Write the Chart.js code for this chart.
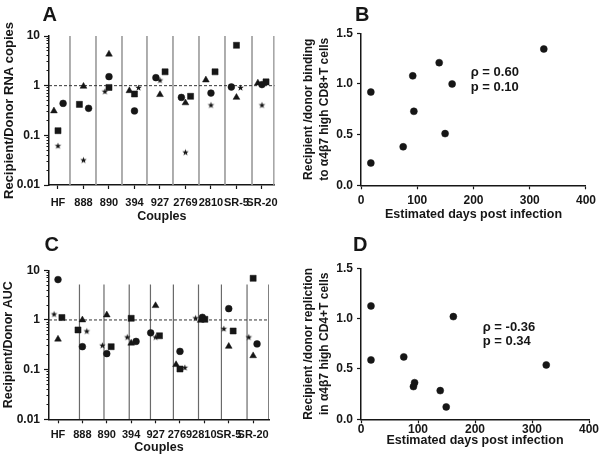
<!DOCTYPE html>
<html>
<head>
<meta charset="utf-8">
<script src="https://cdn.jsdelivr.net/npm/chart.js@4.4.0/dist/chart.umd.min.js"></script>
<style>
  html, body { margin: 0; padding: 0; background: #fff; }
  #wrap { position: relative; width: 600px; height: 456px; overflow: hidden; }
  canvas { position: absolute; }
</style>
</head>
<body>
<div id="wrap">
  <canvas id="chartA" width="300" height="226" style="left:0;top:0"></canvas>
  <canvas id="chartB" width="300" height="226" style="left:300px;top:0"></canvas>
  <canvas id="chartC" width="300" height="230" style="left:0;top:226px"></canvas>
  <canvas id="chartD" width="300" height="230" style="left:300px;top:226px"></canvas>
</div>
<script>
// categories + tick labels
const couples = ['HF', '888', '890', '394', '927', '2769', '2810', 'SR-5', 'SR-20'];
const logTickValues = [0.01, 0.1, 1, 10];
const logTickLabels = ['0.01', '0.1', '1', '10'];
const dayTicks = [0, 100, 200, 300, 400];
const ratioTicks = [0, 0.5, 1.0, 1.5];
const ratioTickLabels = ['0.0', '0.5', '1.0', '1.5'];

// panel A - recipient/donor RNA copies
const rnaCircle   = [0.44, 0.35, 1.52, 0.31, 1.45, 0.58, 0.71, 0.94, 1.05];
const rnaSquare   = [0.124, 0.42, 0.92, 0.68, 1.9, 0.61, 1.9, 6.5, 1.19];
const rnaTriangle = [0.31, 0.97, 4.3, 0.79, 0.66, 0.45, 1.3, 0.58, 1.13];
const rnaStar     = [0.062, 0.032, 0.77, 0.92, 1.3, 0.046, 0.41, 0.92, 0.41];
// horizontal jitter of each mark inside its couple (category widths)
const rnaCircleDx   = [0.2, 0.2, 0, 0, -0.16, -0.16, 0, -0.2, 0];
const rnaSquareDx   = [0, -0.16, 0, 0, 0.2, 0.2, 0.16, 0, 0.16];
const rnaTriangleDx = [-0.16, 0, 0, -0.2, 0, 0, -0.2, 0, -0.16];
const rnaStarDx     = [0, 0, -0.16, 0.16, 0, 0, 0, 0.16, 0];
const rnaSeparators = [1.47, 2.49, 3.51, 4.49, 5.51, 6.53, 7.55, 8.61, 9.47];

// panel C - recipient/donor AUC
const aucCircle   = [6.5, 0.29, 0.21, 0.37, 0.55, 0.233, 1.13, 1.69, 0.33];
const aucSquare   = [1.12, 0.63, 0.29, 1.08, 0.48, 0.103, 1.03, 0.6, 6.9];
const aucTriangle = [0.41, 1.0, 1.26, 0.34, 1.94, 0.126, 0.98, 0.294, 0.19];
const aucStar     = [1.32, 0.6, 0.31, 0.455, 0.455, 0.111, 1.1, 0.67, 0.455];
const aucCircleDx   = [0, 0, 0, 0.2, -0.2, 0, -0.08, 0, 0.16];
const aucSquareDx   = [0.16, -0.18, 0.18, 0, 0.16, 0, 0.02, 0.18, 0];
const aucTriangleDx = [0, 0, 0, 0, 0, -0.16, -0.15, 0, 0];
const aucStarDx     = [-0.16, 0.18, -0.18, -0.16, 0, 0.2, -0.36, -0.2, -0.18];
const aucSeparators = [1.88, 2.885, 3.92, 4.79, 5.73, 6.76, 7.7, 8.75, 9.64];

// panels B and D - vs estimated days post infection
const estDays     = [17.5, 17.5, 75, 92, 94, 139, 149.5, 162, 325];
const bindingCD8  = [0.92, 0.22, 0.38, 1.08, 0.73, 1.21, 0.51, 1.0, 1.345];
const replicCD4   = [1.126, 0.59, 0.62, 0.325, 0.364, 0.285, 0.123, 1.02, 0.54];

const INK = '#161616';
Chart.defaults.font.family = "'Liberation Sans', Arial, Helvetica, sans-serif";
Chart.defaults.color = INK;

function makeStar(outer, inner) {
    const c = document.createElement('canvas');
    const s = 9;
    c.width = s; c.height = s;
    const g = c.getContext('2d');
    g.translate(s / 2, s / 2 + 0.4);
    g.beginPath();
    for (let i = 0; i < 10; i++) {
        const r = i % 2 ? inner : outer;
        const a = -Math.PI / 2 + i * Math.PI / 5;
        g.lineTo(r * Math.cos(a), r * Math.sin(a));
    }
    g.closePath();
    g.fillStyle = INK;
    g.fill();
    return c;
}
const starImg = makeStar(3.4, 1.45);

// draws panel letters and the correlation notes
function textPlugin(items) {
    return {
        id: 'panelText',
        afterDraw(chart) {
            const ctx = chart.ctx;
            ctx.save();
            ctx.fillStyle = INK;
            ctx.textAlign = 'left';
            ctx.textBaseline = 'alphabetic';
            items.forEach(t => {
                ctx.font = t.font;
                ctx.fillText(t.text, t.x, t.y);
            });
            ctx.restore();
        }
    };
}

const tickFont = { size: 12, weight: 'bold' };
const catFont = { size: 11, weight: 'bold' };
const titleFont = { size: 12.5, weight: 'bold' };
const letterFont = "bold 20px 'Liberation Sans', Arial, sans-serif";
const noteFont = "bold 13px 'Liberation Sans', Arial, sans-serif";

function markDataset(values, dx, style, radius) {
    return {
        data: values.map((v, i) => ({ x: i + 1 + dx[i], y: v })),
        pointStyle: style,
        pointRadius: radius,
        pointBackgroundColor: INK,
        pointBorderColor: INK,
        pointBorderWidth: 0.5,
        showLine: false
    };
}

function logPanel(id, marks, seps, sepTop, xMin, xMax, yTitle, lay) {
    const sepData = [];
    seps.forEach(s => {
        sepData.push({ x: s, y: logTickValues[0] }, { x: s, y: sepTop }, { x: s, y: null });
    });
    const minorTicks = [];
    for (let d = 0; d < logTickValues.length - 1; d++) {
        for (let k = 2; k < 10; k++) minorTicks.push({ value: logTickValues[d] * k });
    }

    new Chart(document.getElementById(id), {
        type: 'scatter',
        data: {
            datasets: [
                ...marks,
                {
                    data: [{ x: xMin, y: 1 }, { x: xMax, y: 1 }],
                    showLine: true,
                    borderColor: '#333',
                    borderWidth: 1,
                    borderDash: [3, 2],
                    pointRadius: 0
                },
                {
                    data: sepData,
                    showLine: true,
                    spanGaps: false,
                    borderColor: lay.sepColor,
                    borderWidth: lay.sepWidth,
                    pointRadius: 0
                }
            ]
        },
        options: {
            responsive: false,
            animation: false,
            events: [],
            layout: { padding: { left: 0, top: lay.top, right: lay.right, bottom: 0 } },
            plugins: { legend: { display: false }, tooltip: { enabled: false } },
            scales: {
                x: {
                    type: 'linear',
                    min: xMin,
                    max: xMax,
                    afterBuildTicks: s => { s.ticks = couples.map((c, i) => ({ value: i + 1 })); },
                    afterFit: s => { s.height = lay.xHeight; },
                    grid: { drawOnChartArea: false, tickLength: 4, tickColor: INK, tickWidth: 1.2 },
                    border: { color: INK, width: 1.5 },
                    ticks: {
                        autoSkip: false, maxRotation: 0, minRotation: 0, padding: lay.xPad,
                        font: catFont, color: INK,
                        callback: (v, i) => couples[i]
                    },
                    title: { display: true, text: 'Couples', font: titleFont, color: INK, padding: { top: 0, bottom: lay.titleBottom } }
                },
                y: {
                    type: 'logarithmic',
                    position: 'left',
                    weight: 1,
                    min: logTickValues[0],
                    max: logTickValues[logTickValues.length - 1],
                    afterBuildTicks: s => { s.ticks = logTickValues.map(v => ({ value: v })); },
                    afterFit: s => { s.width = 49; },
                    grid: { drawOnChartArea: false, tickLength: 5, tickColor: INK, tickWidth: 1.2 },
                    border: { color: INK, width: 1.5 },
                    ticks: { padding: 4, font: tickFont, color: INK, callback: (v, i) => logTickLabels[i] },
                    title: { display: true, text: yTitle, font: { size: lay.yTitleSize, weight: 'bold' }, color: INK, padding: { top: 1.5, bottom: 0 } }
                },
                y2: {
                    type: 'logarithmic',
                    position: 'left',
                    weight: 0,
                    min: logTickValues[0],
                    max: logTickValues[logTickValues.length - 1],
                    afterBuildTicks: s => { s.ticks = minorTicks.slice(); },
                    afterFit: s => { s.width = 0; },
                    grid: { drawOnChartArea: false, tickLength: 2.5, tickColor: INK, tickWidth: 1 },
                    border: { display: false },
                    ticks: { display: false }
                }
            }
        },
        plugins: [textPlugin(lay.texts)]
    });
}

function dayPanel(id, values, yTitle, lay) {
    new Chart(document.getElementById(id), {
        type: 'scatter',
        data: {
            datasets: [{
                data: values.map((v, i) => ({ x: estDays[i], y: v })),
                pointStyle: 'circle',
                pointRadius: 3.5,
                pointBackgroundColor: INK,
                pointBorderColor: INK,
                pointBorderWidth: 0.5
            }]
        },
        options: {
            responsive: false,
            animation: false,
            events: [],
            layout: { padding: { left: 0, top: lay.top, right: lay.right, bottom: 0 } },
            plugins: { legend: { display: false }, tooltip: { enabled: false } },
            scales: {
                x: {
                    type: 'linear',
                    min: dayTicks[0],
                    max: dayTicks[dayTicks.length - 1],
                    afterBuildTicks: s => { s.ticks = dayTicks.map(v => ({ value: v })); },
                    afterFit: s => { s.height = lay.xHeight; },
                    grid: { drawOnChartArea: false, tickLength: 4, tickColor: INK, tickWidth: 1.2 },
                    border: { color: INK, width: 1.5 },
                    ticks: { maxRotation: 0, padding: lay.xPad, font: tickFont, color: INK, callback: (v, i) => String(dayTicks[i]) },
                    title: { display: true, text: 'Estimated days post infection', font: titleFont, color: INK, padding: { top: 0, bottom: lay.titleBottom } }
                },
                y: {
                    type: 'linear',
                    min: ratioTicks[0],
                    max: ratioTicks[ratioTicks.length - 1],
                    afterBuildTicks: s => { s.ticks = ratioTicks.map(v => ({ value: v })); },
                    afterFit: s => { s.width = 61; },
                    grid: { drawOnChartArea: false, tickLength: 4, tickColor: INK, tickWidth: 1.2 },
                    border: { color: INK, width: 1.5 },
                    ticks: { padding: 4, font: tickFont, color: INK, callback: (v, i) => ratioTickLabels[i] },
                    title: { display: true, text: yTitle, font: { size: 12, weight: 'bold', lineHeight: 1.333 }, color: INK, padding: { top: 1, bottom: 0 } }
                }
            }
        },
        plugins: [textPlugin(lay.texts)]
    });
}

logPanel('chartA', [
    markDataset(rnaCircle, rnaCircleDx, 'circle', 3.4),
    markDataset(rnaSquare, rnaSquareDx, 'rect', 4.3),
    markDataset(rnaTriangle, rnaTriangleDx, 'triangle', 3.9),
    markDataset(rnaStar, rnaStarDx, starImg, 3)
], rnaSeparators, 10, 0.647, 9.5, 'Recipient/Donor RNA copies', {
    top: 36, right: 25.3, xHeight: 41, xPad: 7.5, titleBottom: 2, yTitleSize: 13,
    sepColor: '#9a9a9a', sepWidth: 1.6,
    texts: [{ text: 'A', x: 42.5, y: 20.5, font: letterFont }]
});

logPanel('chartC', [
    markDataset(aucCircle, aucCircleDx, 'circle', 3.4),
    markDataset(aucSquare, aucSquareDx, 'rect', 4.3),
    markDataset(aucTriangle, aucTriangleDx, 'triangle', 3.9),
    markDataset(aucStar, aucStarDx, starImg, 3)
], aucSeparators, 5.2, 0.631, 9.65, 'Recipient/Donor AUC', {
    top: 44.3, right: 31, xHeight: 36.7, xPad: 5, titleBottom: 0.5, yTitleSize: 12.5,
    sepColor: '#6a6a6a', sepWidth: 1.2,
    texts: [{ text: 'C', x: 44.5, y: 25, font: letterFont }]
});

dayPanel('chartB', bindingCD8, ['Recipient /donor binding', 'to α4β7 high CD8+T cells'], {
    top: 33.3, right: 11, xHeight: 40.7, xPad: 4, titleBottom: 4.2,
    texts: [
        { text: 'B', x: 55, y: 20.5, font: letterFont },
        { text: 'ρ = 0.60', x: 170.7, y: 75.6, font: noteFont },
        { text: 'p = 0.10', x: 170.7, y: 91.4, font: noteFont }
    ]
});

dayPanel('chartD', replicCD4, ['Recipient /donor repliction', 'in α4β7 high CD4+T cells'], {
    top: 42.3, right: 11, xHeight: 36.7, xPad: -1, titleBottom: 8,
    texts: [
        { text: 'D', x: 53, y: 25, font: letterFont },
        { text: 'ρ = -0.36', x: 182.7, y: 104.6, font: noteFont },
        { text: 'p = 0.34', x: 182.7, y: 118.6, font: noteFont }
    ]
});
</script>
</body>
</html>
